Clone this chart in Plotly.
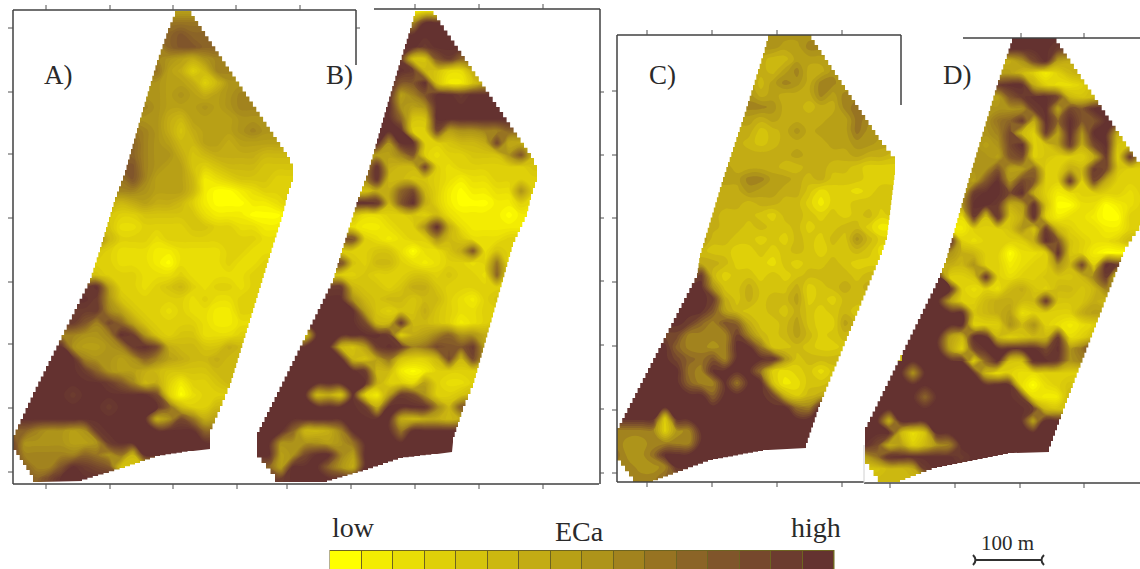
import numpy as np
import plotly.graph_objects as go

# ---- ECa class: 0 (low, yellow) .. f (high, dark brown).
# Each row is "first column : values", one row per 12 px of the map.
PANEL_A = ["13:77","13:aaa","13:bcb","12:9bccb","12:987689","12:a763599","12:8776358","11:887876789",
"11:9877787899","11:8865777788","10:a98646777898","10:b987557767777","10:b9886456666555","10:c9877434555444",
"9:ac9777512344433","9:998777510012333","8:6567665310001123","8:4334444421110001","8:422333344332211",
"7:9533323333333322","7:432221122223322","7:332221022223223","7:433322232222233","6:ef7332345323323",
"6:fe8433333232233","6:ee9743323221133","5:ec9db7433332112","5:9889fe843442223","4:f87789efd6554465",
"4:ff98878b9765565","4:ffeb87765444455","3:fffffec956313345","3:ffeffffffd30233","2:ffffffeffffb5335",
"2:ffffffffff68da67","1:b98878effffffffbb","0:d8888778effffffff","0:d99999ba8a5fff","1:b99cfedc4","2:bdfff"]

PANEL_B = ["13:12","13:9ff","13:ffff","12:ffeff","12:e44ceb","12:fe54226","11:fccf41147","11:f79cffefff",
"11:f878ffffff","11:fb44fffffff","10:fff33d78899b","10:f8ff334556d66","10:779c32334448c5","9:8f655d323333334",
"9:9f5544321223333","9:466bd5310112283","9:ff5cf6310001132","8:422334352111101","8:2112338f6211111",
"7:dd3212338542223","7:33344202246c243","7:d435532123323a2","7:3343334434332b2","6:ee5443466433333",
"6:ff8545545532134","5:ffff743446432233","5:ffffd55e55431234","4:4ffffffe3679b8866","3:ffff547efe9adcce75",
"3:fffff547a4335d5d7","3:ffffffe5510133333","2:ffffffff633273223","1:ffff564f317ed83345","1:ffffffffe6ffff95c",
"0:ffffffffffff656656","0:fffb5569ffffaffff","0:ff888878affffffff","0:ff78dff97ffff","1:b7fffb86ff","2:effff"]

PANEL_C = ["13:8888","12:887799","12:6557778","12:6579668","11:757986997","11:8676669799","11:998665669a",
"10:7767666677a9","10:6645686777a8","10:6545666677887","9:666666766667665","9:766665566554333","9:779977656444333",
"9:668776642332344","8:6665665531334444","8:6555435543434534","8:6554544534455311","7:8554434354354853",
"7:5443343454344542","7:6653332434454333","6:9e53443434555545","6:ff84464446345656","6:ffe6464557343555",
"5:fffc754454643454","5:feb9cb6445743375","5:d9999e9545753454","4:fb9989ffa4454334","4:fdbac9ffff845555",
"3:fffa9ffffa323424","3:fffb99faff412445","2:ffffffbffffd5356","2:fffffffffffffa9f","1:fff3ffffffffffff",
"1:999389ffffffffff","0:9889999ffffffffff","0:a88afffffff","1:9889ffff","2:99b"]

PANEL_D = ["12:ffff","12:ffffe","12:68df76","12:7531356","11:eff632235","11:7ceffd5455","10:8888ef7dcff6",
"10:8abe6fbfccff","9:889d53e7f8ff65","9:878df347e6df44","9:887cd343336e3e6","8:988c77b3365ed433","8:87cf8dc33e3d6333",
"8:6effdf6312333323","8:8ffe67f400220123","7:32e4f46f31221003","7:11333484e5322113","6:ef3233336fc432235",
"7:865330223f43100","7:65833123385d3fe","6:f334e323344459e3","6:ff3232564355459","5:ff73356655e44465",
"5:ffff45672333367","5:ffff33385832123","4:fff75ff53455e235","4:fff73dfffffdf8ae","3:ffffff3bf44ffe89",
"3:f8fffff523223333","2:fffffffffff20234","2:fffbfffffffe2115","1:fffffffffffffe54","1:f6fffffffffff7ff",
"0:fff524fffffffffff","0:fd673589ffffffff","0:7affffffefff","1:4556ef","2:55"]

# ---- field outlines
OUTLINE_A = [(175,11),(188,11),(287,157),(293,170),(293,182),(287,200),(283,217),(270,258),(230,388),(220,412),(210,435),(210,449),(193,451),(160,456),(125,468),(82,481),(40,482),(33,475),(13,445),(13,435),(33,392),(90,278),(100,247),(115,197),(125,170),(143,107),(157,60),(168,28)]
OUTLINE_B = [(415,10),(430,10),(531,158),(537,172),(537,182),(531,200),(527,217),(513,247),(473,388),(463,412),(453,442),(452,452),(437,454),(403,458),(368,470),(327,482),(282,482),(275,474),(257,452),(257,432),(277,392),(333,278),(342,248),(358,197),(368,170),(386,107),(400,60),(410,28)]
OUTLINE_C = [(768,35),(808,35),(882,145),(895,162),(895,175),(887,240),(882,255),(820,407),(806,448),(768,450),(713,460),(653,482),(637,482),(617,455),(617,428),(697,273),(700,253),(723,177),(743,117),(763,53)]
OUTLINE_D = [(1012,38),(1053,38),(1140,167),(1150,185),(1150,215),(1125,252),(1067,403),(1049,452),(1013,453),(937,468),(900,482),(882,482),(865,458),(865,427),(938,278),(946,258),(970,173),(998,80)]

LEVEL_COLORS = ["#FFFF00","#F3EC02","#E9DE06","#DFD009","#D5C40C","#CCB810","#C3AC14","#B8A016",
                "#AE941A","#A2831E","#977322","#8B6427","#80552B","#76482D","#6C3C2F","#643230"]
LEGEND_LEVELS = list(range(16))
LEGEND_TOP_LABELS = ["low", "ECa", "high"]
PANEL_LABELS = ["A)", "B)", "C)", "D)"]
SCALE_LABEL = "100 m"

TICKS_TOP = [(46,10),(110,10),(173,10),(236,10),(300,10),(415,9),(479,9),(543,9),(647,35),(712,35),(777,35),(842,35),(1021,38),(1084,38)]
TICKS_BOTTOM = [(46,484),(110,484),(173,484),(237,484),(287,484),(351,484),(415,484),(479,484),(543,484),(647,482),(712,482),(777,482),(842,482),(890,483),(955,483),(1020,483),(1084,483)]
TICKS_LEFT = [(13,y) for y in (28,92,154,218,282,344,408,472)] + [(617,y) for y in (91,155,218,282,346,410,473)]
TICKS_RIGHT = [(356,28)] + [(600,y) for y in (92,155,218,281,345,409,473)]
FRAMES = [((13,10),(13,484)),((13,10),(356,10)),((356,10),(356,65)),((13,484),(257,484)),
          ((257,484),(599,484)),((374,9),(600,9)),((600,9),(600,484)),
          ((617,35),(617,482)),((617,35),(901,35)),((901,35),(901,105)),((617,482),(864,482)),
          ((963,38),(1140,38)),((864,483),(1140,483))]


def parse(rows, ncols=25):
    out = []
    for r in rows:
        s, v = r.split(":")
        s = int(s)
        vals = [int(c, 16) for c in v]
        row = [vals[0]] * s + vals
        row += [vals[-1]] * (ncols - len(row))
        out.append(row[:ncols])
    out.append(list(out[-1]))  # let the field reach the bottom edge
    return np.array(out, dtype=float)


def stairs(poly, step=5):
    pts = []
    n = len(poly)
    for a in range(n):
        x0, y0 = poly[a]
        x1, y1 = poly[(a + 1) % n]
        dx, dy = x1 - x0, y1 - y0
        if abs(dx) < 3 or abs(dy) < 3:
            pts.append((x0, y0))
            continue
        m = max(1, int(max(abs(dx), abs(dy)) / step))
        for k in range(m):
            xa, ya = x0 + dx * k / m, y0 + dy * k / m
            xb = x0 + dx * (k + 1) / m
            pts += [(xa, ya), (xb, ya)]
    return pts


def subpath(pts):
    return "M" + " L".join(f"{x:.1f},{y:.1f}" for x, y in pts) + " Z"


scale = [[i / 15, c] for i, c in enumerate(LEVEL_COLORS)]
fig = go.Figure()


def add_map(z, x0, y0, size):
    fig.add_trace(go.Contour(z=z.tolist(), x0=x0, dx=12, y0=y0, dy=12, zmin=0, zmax=15, colorscale=scale,
                             showscale=False, autocontour=False, hoverinfo="skip",
                             contours=dict(start=size / 2, end=15 - size / 2, size=size, coloring="fill",
                                           showlines=False),
                             line=dict(width=0, smoothing=1.2)))


zA, zB, zC, zD = parse(PANEL_A), parse(PANEL_B), parse(PANEL_C), parse(PANEL_D)
add_map(zA, 13, 11, 0.5)
add_map(zC, 617, 35, 1.0)
# the two right-hand fields sit in the neighbours' bounding boxes: draw each in an upper and a lower part
add_map(zB[:29, 3:], 257 + 36, 11, 0.5)
add_map(zB[28:, :], 257, 11 + 28 * 12, 0.5)
add_map(zD[:28, 3:], 865 + 37, 37, 0.5)
add_map(zD[27:, :], 865, 37 + 27 * 12, 0.5)

# legend strip
fig.add_trace(go.Heatmap(z=[LEGEND_LEVELS, LEGEND_LEVELS], x0=330 + 31.5 / 2, dx=31.5, y0=558, dy=14,
                         zmin=0, zmax=15, colorscale=scale, showscale=False, xgap=1, hoverinfo="skip"))

shapes = [dict(type="rect", x0=329.5, x1=834.5, y0=550, y1=575, xref="x", yref="y", layer="below",
               fillcolor="#6E6420", line_width=0)]
mask = "M-20,-20 L1160,-20 L1160,496 L-20,496 Z " + " ".join(
    subpath(stairs(o)) for o in (OUTLINE_A, OUTLINE_B, OUTLINE_C, OUTLINE_D))
shapes.append(dict(type="path", path=mask, xref="x", yref="y", fillcolor="white", fillrule="evenodd",
                   line_width=0, layer="above"))

LINE = dict(color="#404040", width=1.5)
TICK = dict(color="#505050", width=1)
for (a, b) in FRAMES:
    shapes.append(dict(type="line", x0=a[0], y0=a[1], x1=b[0], y1=b[1], xref="x", yref="y", line=LINE))
for x, y in TICKS_TOP:
    shapes.append(dict(type="line", x0=x, y0=y - 5, x1=x, y1=y, xref="x", yref="y", line=TICK))
for x, y in TICKS_BOTTOM:
    shapes.append(dict(type="line", x0=x, y0=y, x1=x, y1=y + 5, xref="x", yref="y", line=TICK))
for x, y in TICKS_LEFT:
    shapes.append(dict(type="line", x0=x - 5, y0=y, x1=x, y1=y, xref="x", yref="y", line=TICK))
for x, y in TICKS_RIGHT:
    shapes.append(dict(type="line", x0=x, y0=y, x1=x + 4, y1=y, xref="x", yref="y", line=TICK))
# faint stub left of panel D
shapes.append(dict(type="line", x0=864, y0=445, x1=864, y1=483, xref="x", yref="y",
                   line=dict(color="#D0D0D0", width=1)))
# scale bar
shapes.append(dict(type="line", x0=975, y0=560, x1=1042, y1=560, xref="x", yref="y",
                   line=dict(color="#303030", width=2)))
shapes.append(dict(type="path", path="M973,555 Q978,560 973,565", xref="x", yref="y",
                   line=dict(color="#303030", width=2)))
shapes.append(dict(type="path", path="M1044,555 Q1039,560 1044,565", xref="x", yref="y",
                   line=dict(color="#303030", width=2)))

SERIF = "Liberation Serif"
anns = []
for t, x in zip(PANEL_LABELS, (42, 324, 647, 941)):
    anns.append(dict(text=t, x=x, y=75, xref="x", yref="y", xanchor="left", yanchor="middle", showarrow=False,
                     font=dict(family=SERIF, size=27, color="#2a2a2a")))
for t, x, y in zip(LEGEND_TOP_LABELS, (330, 553, 789), (527, 531, 527)):
    anns.append(dict(text=t, x=x, y=y, xref="x", yref="y", xanchor="left", yanchor="middle", showarrow=False,
                     font=dict(family=SERIF, size=28, color="#2a2a2a")))
anns.append(dict(text=SCALE_LABEL, x=979, y=543, xref="x", yref="y", xanchor="left", yanchor="middle",
                 showarrow=False, font=dict(family=SERIF, size=21, color="#2a2a2a")))

fig.update_layout(width=1140, height=569, margin=dict(l=0, r=0, t=0, b=0), paper_bgcolor="white",
                  plot_bgcolor="white", showlegend=False, shapes=shapes, annotations=anns,
                  xaxis=dict(range=[0, 1140], visible=False, fixedrange=True),
                  yaxis=dict(range=[569, 0], visible=False, fixedrange=True))
fig.write_html("out.html", config={"displayModeBar": False},
               post_script="document.body.style.margin='0';")
